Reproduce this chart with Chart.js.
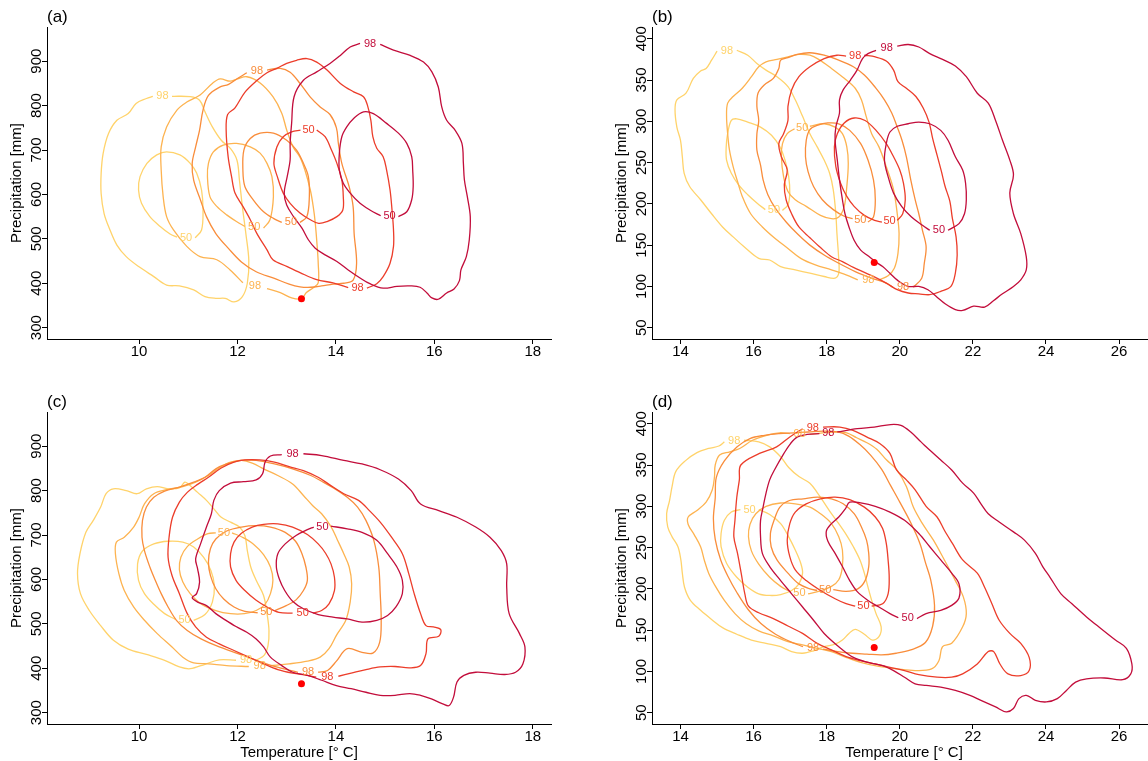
<!DOCTYPE html>
<html>
<head>
<meta charset="utf-8">
<script src="https://cdn.jsdelivr.net/npm/chart.js@4.4.1/dist/chart.umd.min.js"></script>
<style>
  html, body { margin: 0; padding: 0; background: #fff; overflow: hidden; }
  #fig { position: relative; width: 1148px; height: 761px; overflow: hidden; background: #fff; }
  #fig canvas { position: absolute; }
</style>
</head>
<body>
<div id="fig">
  <canvas id="pa" width="574" height="380" style="left:0;top:0"></canvas>
  <canvas id="pb" width="574" height="380" style="left:605px;top:0"></canvas>
  <canvas id="pc" width="574" height="380" style="left:0;top:385px"></canvas>
  <canvas id="pd" width="574" height="380" style="left:605px;top:385px"></canvas>
</div>
<script>
; (() => {
    "use strict";

    const FONT = '"Liberation Sans", Arial, Helvetica, sans-serif';
    const shades = ['#FFD36B', '#FDB350', '#F98D3B', '#EC3D2A', '#C20D3B'];

    // axes
    const xTicksAC = [10, 12, 14, 16, 18];
    const xTicksBD = [14, 16, 18, 20, 22, 24, 26];
    const yTicksAC = [300, 400, 500, 600, 700, 800, 900];
    const yTicksBD = [50, 100, 150, 200, 250, 300, 350, 400];
    const xRangeAC = [8.13, 18.37], yRangeAC = [274.5, 977];
    const xRangeBD = [13.22, 27.01], yRangeBD = [36.3, 414.2];

    // observed point
    const obsAC = [13.3, 365];
    const obsBD = [19.3, 129];

    // contours: each list starts just after its label and ends just before it
    // panel (a)
    const a1_98 = [[10.67,821],[11.04,820],[11.23,812],[11.34,786],[11.49,752],[11.67,722],[11.86,703],[11.99,677],[12.04,632],[12.10,572],[12.17,512],[12.23,452],[12.20,400],[12.10,370],[11.93,358],[11.75,366],[11.56,366],[11.34,370],[11.11,385],[10.82,394],[10.56,396],[10.30,415],[10.00,437],[9.74,460],[9.55,486],[9.41,520],[9.29,557],[9.23,602],[9.23,647],[9.27,692],[9.38,737],[9.55,767],[9.78,782],[9.94,805],[10.15,816],[10.28,821]];
    const a1_50 = [[11.14,502],[11.27,520],[11.30,565],[11.27,610],[11.17,648],[11.04,670],[10.83,689],[10.56,696],[10.36,689],[10.16,670],[10.02,640],[9.99,610],[10.05,580],[10.22,550],[10.43,528],[10.63,511],[10.77,504]];
    const a2_98 = [[12.6,388],[12.87,379],[13.1,367],[13.3,365],[13.4,379],[13.54,390],[13.64,401],[13.64,446],[13.62,482],[13.58,536],[13.54,572],[13.48,610],[13.37,655],[13.27,684],[13.13,707],[13.0,745],[12.9,783],[12.72,820],[12.46,851],[12.19,865],[12.0,860],[11.85,855],[11.65,860],[11.5,851],[11.24,824],[10.97,808],[10.77,790],[10.56,752],[10.45,707],[10.45,655],[10.49,595],[10.56,550],[10.7,520],[10.97,483],[11.24,460],[11.58,453],[11.85,430],[12.11,401]];
    const a2_50 = [[12.53,524],[12.66,543],[12.73,595],[12.7,640],[12.6,670],[12.46,693],[12.26,707],[11.98,715],[11.71,711],[11.51,696],[11.41,670],[11.39,640],[11.44,595],[11.58,573],[11.78,554],[11.98,539],[12.15,528]];
    const a3_98 = [[12.6,880],[12.87,884],[13.07,875],[13.27,850],[13.48,819],[13.68,797],[13.88,780],[14.01,750],[14.05,715],[14.12,670],[14.27,617],[14.35,572],[14.37,512],[14.42,445],[14.35,407],[14.16,400],[13.94,398],[13.71,394],[13.49,391],[13.27,392],[13.05,398],[12.75,411],[12.38,426],[12.08,448],[11.82,478],[11.56,512],[11.37,550],[11.25,587],[11.11,632],[11.08,670],[11.15,707],[11.23,745],[11.30,790],[11.41,823],[11.63,841],[11.82,848],[12.0,861],[12.19,874]];
    const a3_50 = [[13.27,537],[13.41,550],[13.46,595],[13.44,640],[13.34,670],[13.2,700],[13.0,722],[12.73,738],[12.46,738],[12.26,726],[12.13,700],[12.11,655],[12.15,618],[12.32,588],[12.53,561],[12.73,546],[12.9,537]];
    const a4_98 = [[14.63,389],[14.83,399],[14.96,415],[15.1,445],[15.17,483],[15.17,520],[15.14,565],[15.1,610],[15.03,655],[14.96,685],[14.83,704],[14.75,730],[14.71,767],[14.64,801],[14.56,820],[14.36,831],[14.09,850],[13.82,880],[13.61,898],[13.41,906],[13.2,902],[13.0,895],[12.8,884],[12.6,874],[12.4,857],[12.15,830],[11.95,795],[11.8,780],[11.77,745],[11.81,685],[11.88,640],[11.95,603],[12.11,573],[12.26,543],[12.39,513],[12.6,475],[12.72,453],[13.0,438],[13.27,424],[13.61,408],[13.94,401],[14.25,390]];
    const a4_50 = [[13.61,745],[13.78,730],[13.91,700],[14.02,670],[14.12,633],[14.15,595],[14.14,565],[14.02,550],[13.82,539],[13.65,535],[13.48,543],[13.27,558],[13.07,580],[12.93,603],[12.81,640],[12.74,670],[12.8,707],[12.93,730],[13.1,741],[13.28,745]];
    const a5_98 = [[14.90,938],[15.17,925],[15.51,913],[15.78,898],[15.95,876],[16.08,842],[16.15,797],[16.25,767],[16.42,745],[16.56,715],[16.59,670],[16.61,633],[16.67,595],[16.73,550],[16.71,498],[16.65,460],[16.54,430],[16.51,406],[16.4,387],[16.25,378],[16.08,364],[15.95,367],[15.85,378],[15.71,391],[15.51,394],[15.24,393],[14.96,389],[14.69,399],[14.49,412],[14.25,430],[14.02,449],[13.78,464],[13.58,479],[13.44,498],[13.31,524],[13.14,550],[13.0,576],[12.95,603],[13.01,640],[13.07,678],[13.07,715],[13.1,760],[13.15,820],[13.34,857],[13.61,876],[13.88,895],[14.09,913],[14.29,932],[14.49,940]];
    const a5_50 = [[15.27,550],[15.44,561],[15.54,588],[15.57,618],[15.56,655],[15.54,685],[15.44,715],[15.27,738],[15.03,760],[14.76,782],[14.56,786],[14.36,771],[14.22,752],[14.12,730],[14.07,693],[14.07,655],[14.15,625],[14.29,603],[14.49,580],[14.69,565],[14.91,552]];

    // panel (b)
    const b1_98 = [[15.54,386],[15.84,380],[16.09,370],[16.34,362],[16.64,354],[16.94,342],[17.14,326],[17.34,306],[17.54,285],[17.74,269],[17.93,253],[18.08,237],[18.18,217],[18.25,188],[18.28,164],[18.33,132],[18.33,116],[18.23,110],[17.93,112],[17.54,116],[17.14,120],[16.74,124],[16.44,132],[16.14,134],[15.74,148],[15.44,160],[15.15,172],[14.85,188],[14.55,205],[14.25,221],[14.1,237],[14.05,257],[14.0,277],[13.9,293],[13.85,314],[13.9,326],[14.15,334],[14.35,352],[14.55,361],[14.7,364],[14.85,374],[15.0,385]];
    const b1_50 = [[16.79,192],[16.94,199],[16.99,213],[16.96,233],[16.86,253],[16.72,269],[16.49,283],[16.19,293],[15.84,299],[15.54,303],[15.39,301],[15.29,285],[15.25,269],[15.26,253],[15.39,237],[15.59,223],[15.84,211],[16.09,201],[16.32,193]];
    const b2_98 = [[19.43,108],[19.68,113],[19.85,122],[19.95,140],[19.98,164],[19.93,188],[19.83,217],[19.63,245],[19.43,269],[19.23,285],[19.08,306],[18.95,326],[18.78,340],[18.48,352],[18.13,364],[17.78,375],[17.54,380],[17.24,381],[16.94,378],[16.64,375],[16.34,372],[16.14,366],[15.94,354],[15.69,340],[15.44,330],[15.29,322],[15.26,306],[15.29,285],[15.34,265],[15.44,245],[15.56,227],[15.69,209],[15.92,188],[16.24,172],[16.59,158],[16.94,146],[17.29,134],[17.69,126],[18.13,120],[18.53,114],[18.85,108]];
    const b2_50 = [[17.54,294],[17.93,297],[18.23,293],[18.43,285],[18.55,269],[18.59,249],[18.55,221],[18.48,197],[18.33,184],[18.13,182],[17.83,186],[17.44,197],[17.14,205],[16.94,215],[16.82,233],[16.76,257],[16.79,273],[16.92,285],[17.12,291]];
    const b3_98 = [[20.37,99],[20.6,110],[20.67,128],[20.72,148],[20.62,168],[20.52,188],[20.42,205],[20.3,229],[20.18,257],[20.06,277],[19.93,293],[19.78,310],[19.58,326],[19.33,341],[19.03,356],[18.73,366],[18.33,374],[17.93,380],[17.54,383],[17.19,381],[16.94,377],[16.74,374],[16.69,364],[16.54,352],[16.29,344],[16.12,334],[16.09,318],[16.14,301],[16.09,285],[16.09,265],[16.19,247],[16.26,229],[16.39,211],[16.59,195],[16.89,178],[17.19,164],[17.54,150],[17.93,138],[18.33,128],[18.78,118],[19.23,110],[19.63,104],[19.81,99]];
    const b3_50 = [[19.13,178],[19.28,184],[19.33,205],[19.28,229],[19.13,253],[18.93,273],[18.63,289],[18.33,297],[18.03,298],[17.74,295],[17.54,290],[17.44,277],[17.42,257],[17.49,239],[17.64,221],[17.88,205],[18.18,193],[18.48,185],[18.71,182]];
    const b4_98 = [[19.03,380],[19.33,378],[19.63,373],[19.83,362],[19.95,348],[20.18,340],[20.44,330],[20.64,316],[20.8,299],[20.9,279],[21.02,259],[21.14,239],[21.24,221],[21.37,203],[21.44,182],[21.54,160],[21.57,138],[21.52,116],[21.4,100],[21.12,94],[20.82,90],[20.52,91],[20.23,92],[19.93,96],[19.63,104],[19.33,111],[19.03,117],[18.73,123],[18.43,130],[18.13,136],[17.83,147],[17.54,159],[17.24,172],[17.04,188],[16.89,205],[16.84,223],[16.92,241],[16.76,257],[16.69,273],[16.82,285],[16.94,301],[16.94,318],[17.04,338],[17.24,354],[17.54,366],[17.93,376],[18.28,380],[18.53,379]];
    const b4_50 = [[19.93,180],[20.08,188],[20.15,205],[20.1,225],[20.0,241],[19.83,257],[19.63,273],[19.35,289],[19.05,301],[18.75,304],[18.48,298],[18.29,285],[18.21,269],[18.25,245],[18.38,225],[18.55,209],[18.75,197],[19.03,186],[19.31,180],[19.51,178]];
    const b5_98 = [[19.93,391],[20.23,393],[20.52,390],[20.82,382],[21.17,375],[21.52,367],[21.82,354],[22.12,334],[22.42,322],[22.62,301],[22.81,277],[23.01,253],[23.11,235],[23.01,213],[23.11,188],[23.31,164],[23.46,136],[23.46,120],[23.31,108],[23.11,100],[22.81,91],[22.57,83],[22.32,75],[22.02,76],[21.72,71],[21.52,72],[21.24,79],[21.02,87],[20.77,96],[20.52,100],[20.23,100],[19.95,107],[19.73,116],[19.53,124],[19.33,130],[19.13,137],[18.93,144],[18.75,156],[18.61,172],[18.5,188],[18.43,205],[18.35,229],[18.29,253],[18.23,277],[18.25,293],[18.35,310],[18.35,326],[18.45,338],[18.65,350],[18.83,362],[18.98,376],[19.13,382],[19.35,386]];
    const b5_50 = [[21.32,168],[21.62,176],[21.77,188],[21.82,205],[21.8,225],[21.72,241],[21.52,257],[21.32,277],[21.12,289],[20.82,297],[20.52,299],[20.23,297],[19.93,294],[19.73,287],[19.63,273],[19.58,253],[19.68,233],[19.83,213],[20.05,197],[20.32,184],[20.62,174],[20.82,168]];

    // panel (c)
    const c1_98 = [[12.38,418],[12.54,429],[12.62,451],[12.64,485],[12.6,523],[12.53,564],[12.38,598],[12.27,628],[12.2,665],[12.15,699],[12.04,718],[11.86,729],[11.67,740],[11.52,759],[11.37,778],[11.19,796],[11.0,815],[10.93,819],[10.82,806],[10.59,804],[10.37,809],[10.15,804],[9.96,793],[9.74,800],[9.48,804],[9.33,793],[9.22,763],[9.07,733],[8.92,706],[8.8,658],[8.75,613],[8.81,568],[8.99,530],[9.22,496],[9.48,463],[9.78,443],[10.15,431],[10.52,418],[10.82,403],[11.04,399],[11.34,409],[11.63,419],[11.97,418]];
    const c1_50 = [[11.11,508],[11.34,521],[11.49,549],[11.53,586],[11.46,620],[11.31,650],[11.11,673],[10.89,684],[10.59,686],[10.3,680],[10.07,664],[9.97,635],[9.99,598],[10.11,568],[10.3,544],[10.52,523],[10.74,510]];
    const c2_98 = [[12.67,406],[13.05,410],[13.42,416],[13.68,425],[13.86,444],[14.01,474],[14.2,508],[14.29,549],[14.32,590],[14.27,628],[14.16,658],[14.03,689],[13.9,719],[13.71,748],[13.53,766],[13.34,789],[13.12,815],[12.82,834],[12.53,849],[12.3,862],[12.08,868],[11.86,864],[11.63,851],[11.41,834],[11.15,819],[10.89,809],[10.56,802],[10.3,793],[10.11,770],[10.0,740],[9.89,718],[9.7,695],[9.54,684],[9.52,658],[9.59,613],[9.7,575],[9.89,538],[10.11,508],[10.37,478],[10.67,448],[10.89,425],[11.11,412],[11.41,410],[11.78,406],[12.23,404]];
    const c2_50 = [[11.89,705],[12.1,695],[12.32,680],[12.53,656],[12.67,628],[12.72,598],[12.67,568],[12.56,544],[12.38,530],[12.14,523],[11.86,523],[11.56,530],[11.26,545],[11.04,568],[10.89,594],[10.82,622],[10.85,650],[10.98,674],[11.19,691],[11.4,703],[11.56,705]];
    const c3_98 = [[13.64,391],[13.83,395],[14.01,416],[14.23,444],[14.53,436],[14.75,434],[14.89,459],[14.92,508],[14.9,568],[14.87,628],[14.77,688],[14.61,733],[14.44,763],[14.23,785],[13.95,806],[13.71,821],[13.49,834],[13.12,849],[12.75,860],[12.38,868],[12.08,868],[11.78,860],[11.56,849],[11.34,830],[11.11,819],[10.82,808],[10.52,799],[10.3,785],[10.15,763],[10.07,733],[10.06,695],[10.11,665],[10.22,628],[10.33,598],[10.45,568],[10.59,538],[10.76,508],[10.98,485],[11.26,466],[11.63,448],[12.01,433],[12.38,418],[12.75,404],[13.23,391]];
    const c3_50 = [[12.76,530],[12.99,541],[13.19,554],[13.34,575],[13.42,598],[13.39,628],[13.31,658],[13.18,686],[12.97,706],[12.67,718],[12.38,721],[12.08,718],[11.78,709],[11.56,691],[11.45,669],[11.41,639],[11.45,609],[11.56,579],[11.72,556],[11.93,538],[12.15,528],[12.41,525]];
    const c4_98 = [[14.05,382],[14.31,389],[14.61,397],[14.9,403],[15.2,404],[15.5,401],[15.72,406],[15.83,433],[15.87,466],[16.09,472],[16.13,487],[15.98,493],[15.83,496],[15.72,523],[15.59,568],[15.48,613],[15.35,658],[15.13,695],[14.9,729],[14.68,755],[14.46,778],[14.16,793],[13.86,814],[13.64,830],[13.34,845],[13.05,854],[12.75,864],[12.45,869],[12.15,869],[11.93,864],[11.67,851],[11.41,830],[11.19,814],[10.98,796],[10.82,774],[10.68,740],[10.61,695],[10.59,650],[10.67,609],[10.82,568],[10.98,523],[11.15,493],[11.37,470],[11.63,455],[11.93,440],[12.23,425],[12.53,410],[12.82,397],[13.12,389],[13.42,384],[13.6,380]];
    const c4_50 = [[13.53,524],[13.71,530],[13.86,545],[13.97,575],[13.97,605],[13.9,635],[13.79,659],[13.64,680],[13.42,701],[13.12,718],[12.82,725],[12.53,724],[12.3,718],[12.08,704],[11.93,684],[11.86,658],[11.86,628],[11.97,598],[12.15,575],[12.38,553],[12.6,538],[12.84,526],[13.12,524]];
    const c5_98 = [[13.34,883],[13.71,879],[14.16,868],[14.53,860],[14.9,847],[15.27,826],[15.53,800],[15.72,770],[16.09,755],[16.46,740],[16.84,718],[17.13,695],[17.36,665],[17.47,635],[17.47,583],[17.52,523],[17.73,478],[17.84,448],[17.8,410],[17.65,391],[17.43,386],[17.13,389],[16.84,391],[16.6,384],[16.46,369],[16.39,335],[16.3,316],[16.17,320],[15.94,331],[15.72,339],[15.5,343],[15.2,339],[14.9,339],[14.61,346],[14.31,354],[14.01,361],[13.71,373],[13.42,384],[13.12,391],[12.9,406],[12.67,425],[12.53,448],[12.38,466],[12.19,481],[11.97,494],[11.75,509],[11.56,523],[11.37,541],[11.19,549],[11.08,559],[11.17,568],[11.23,594],[11.19,624],[11.15,646],[11.25,680],[11.37,718],[11.47,748],[11.52,778],[11.63,800],[11.86,817],[12.12,820],[12.38,824],[12.51,838],[12.56,864],[12.67,878],[12.9,881]];
    const c5_50 = [[13.9,720],[14.23,714],[14.53,706],[14.83,688],[15.05,658],[15.24,628],[15.35,598],[15.35,568],[15.22,538],[15.05,519],[14.83,508],[14.53,504],[14.23,511],[13.94,515],[13.64,521],[13.34,534],[13.12,551],[12.96,575],[12.85,601],[12.79,628],[12.82,658],[12.97,680],[13.19,699],[13.42,712],[13.55,718]];

    // panel (d)
    const d1_98 = [[15.74,380],[16.14,378],[16.44,372],[16.74,360],[16.96,347],[17.24,336],[17.54,328],[17.75,316],[17.95,303],[18.13,291],[18.33,279],[18.53,266],[18.73,251],[18.91,235],[19.03,219],[19.13,202],[19.23,186],[19.35,170],[19.49,154],[19.43,142],[19.25,138],[19.03,145],[18.78,151],[18.61,146],[18.43,138],[18.23,133],[17.93,130],[17.64,125],[17.34,122],[17.04,124],[16.74,130],[16.34,134],[15.94,138],[15.54,145],[15.15,153],[14.85,163],[14.55,174],[14.27,186],[14.11,202],[14.05,219],[14.01,235],[13.93,251],[13.77,263],[13.65,275],[13.62,291],[13.7,307],[13.77,324],[13.87,342],[14.13,355],[14.45,365],[14.77,370],[15.05,373],[15.2,378]];
    const d1_50 = [[16.14,296],[16.44,290],[16.74,279],[16.96,263],[17.14,247],[17.29,231],[17.34,219],[17.24,206],[17.04,198],[16.74,193],[16.44,192],[16.14,194],[15.84,202],[15.54,214],[15.26,231],[15.11,251],[15.11,267],[15.2,283],[15.39,293],[15.64,296]];
    const d2_98 = [[17.53,387],[17.89,389],[18.27,390],[18.55,389],[18.82,383],[19.1,377],[19.37,369],[19.64,356],[19.92,344],[20.18,324],[20.37,299],[20.62,279],[20.92,259],[21.22,235],[21.52,210],[21.74,190],[21.82,170],[21.72,154],[21.42,134],[21.17,130],[21.07,113],[20.87,103],[20.42,101],[19.93,103],[19.43,106],[18.93,111],[18.53,117],[18.13,124],[17.74,128],[17.34,132],[16.94,136],[16.54,143],[16.14,149],[15.79,158],[15.49,170],[15.2,186],[14.97,202],[14.77,219],[14.65,235],[14.55,251],[14.37,266],[14.21,278],[14.21,287],[14.45,295],[14.7,305],[14.87,320],[14.93,336],[14.95,350],[15.07,362],[15.35,366],[15.62,370],[15.97,380],[16.36,386],[16.71,389],[16.99,388]];
    const d2_50 = [[17.49,194],[17.78,197],[18.13,203],[18.33,211],[18.43,227],[18.43,247],[18.33,263],[18.13,279],[17.83,291],[17.54,299],[17.14,303],[16.74,304],[16.34,300],[16.06,291],[15.9,278],[15.86,263],[15.94,246],[16.14,230],[16.44,214],[16.74,203],[17.02,196]];
    const d3_98 = [[17.9,127],[18.3,124],[18.7,122],[19.1,121],[19.5,120],[19.9,122],[20.3,126],[20.7,135],[20.9,155],[20.95,180],[20.85,210],[20.7,232],[20.55,255],[20.3,280],[20.0,305],[19.75,325],[19.5,345],[19.2,362],[18.9,375],[18.6,385],[18.3,390],[17.9,391],[17.5,390],[17.1,389],[16.7,388],[16.3,386],[15.9,382],[15.55,372],[15.2,355],[14.98,335],[14.95,310],[14.9,285],[14.95,260],[15.1,235],[15.3,215],[15.55,195],[15.85,175],[16.2,158],[16.6,145],[17.0,136],[17.35,130]];
    const d3_50 = [[18.18,199],[18.53,197],[18.85,200],[19.05,210],[19.15,227],[19.15,243],[19.09,259],[18.95,275],[18.75,291],[18.45,303],[18.13,309],[17.75,311],[17.36,309],[16.98,307],[16.72,299],[16.56,283],[16.46,267],[16.48,251],[16.64,235],[16.94,219],[17.24,206],[17.54,200],[17.74,198]];
    const d4_98 = [[17.9,396],[18.36,396],[18.72,392],[19.09,384],[19.45,376],[19.73,364],[19.91,344],[20.18,332],[20.42,320],[20.72,300],[21.02,287],[21.22,271],[21.44,255],[21.72,235],[22.12,219],[22.32,202],[22.52,182],[22.72,162],[23.01,146],[23.31,134],[23.54,117],[23.54,101],[23.31,95],[22.96,97],[22.74,109],[22.57,124],[22.42,124],[22.12,109],[21.72,97],[21.42,93],[21.02,93],[20.52,96],[20.13,101],[19.73,105],[19.33,109],[18.93,113],[18.53,118],[18.13,126],[17.74,134],[17.34,146],[16.94,155],[16.54,164],[16.14,171],[15.86,179],[15.76,194],[15.66,219],[15.56,243],[15.46,263],[15.49,283],[15.54,311],[15.61,332],[15.65,350],[16.16,364],[16.63,372],[16.99,384],[17.34,394]];
    const d4_50 = [[19.23,179],[19.53,182],[19.68,194],[19.71,214],[19.68,235],[19.63,255],[19.53,273],[19.33,287],[19.03,299],[18.63,308],[18.23,311],[17.83,309],[17.44,303],[17.14,293],[16.99,279],[16.92,259],[16.99,239],[17.14,223],[17.44,210],[17.83,198],[18.23,188],[18.53,182],[18.78,179]];
    const d5_98 = [[18.29,390],[18.84,394],[19.3,396],[19.75,399],[20.03,398],[20.3,390],[20.58,378],[20.72,372],[21.12,356],[21.42,344],[21.72,328],[22.02,316],[22.22,303],[22.42,291],[22.72,281],[23.11,269],[23.41,259],[23.71,243],[23.91,227],[24.11,214],[24.41,194],[24.71,182],[25.11,166],[25.5,152],[25.9,138],[26.2,128],[26.35,109],[26.32,97],[26.1,90],[25.6,92],[25.11,91],[24.81,87],[24.56,77],[24.31,67],[24.01,63],[23.71,65],[23.46,71],[23.26,67],[23.11,55],[22.91,51],[22.62,57],[22.22,65],[21.92,71],[21.52,77],[21.12,81],[20.72,83],[20.42,85],[20.13,93],[19.83,101],[19.53,107],[19.13,111],[18.73,117],[18.33,130],[17.93,146],[17.64,162],[17.34,178],[17.04,194],[16.74,210],[16.44,227],[16.24,243],[16.19,263],[16.19,283],[16.26,299],[16.34,316],[16.44,332],[16.57,344],[16.83,364],[17.01,376],[17.2,384],[17.47,387],[17.8,388]];
    const d5_50 = [[20.47,164],[20.72,170],[21.12,174],[21.42,180],[21.62,189],[21.62,206],[21.42,219],[21.12,235],[20.82,251],[20.52,267],[20.13,283],[19.73,293],[19.33,300],[18.93,304],[18.63,305],[18.51,297],[18.33,287],[18.13,279],[17.99,270],[18.03,258],[18.23,243],[18.43,227],[18.63,210],[18.83,197],[19.13,186],[19.43,178],[19.73,170],[19.96,165]];

    Chart.defaults.font.family = FONT;
    Chart.defaults.color = '#000';

    // contour labels, rotated y tick labels, panel letter
    const rStyle = {
        id: 'rStyle',
        afterDatasetsDraw(chart) {
            const { ctx } = chart;
            const x = chart.scales.x, y = chart.scales.y;
            ctx.save();
            ctx.font = '11px ' + FONT;
            ctx.textAlign = 'center';
            ctx.textBaseline = 'middle';
            chart.data.datasets.forEach(ds => {
                if (!ds.level) return;
                const p = ds.data[0], q = ds.data[ds.data.length - 1];
                ctx.fillStyle = ds.borderColor;
                ctx.fillText(ds.level,
                    x.getPixelForValue((p.x + q.x) / 2),
                    y.getPixelForValue((p.y + q.y) / 2));
            });
            ctx.restore();
        },
        afterDraw(chart, args, opts) {
            const { ctx, chartArea } = chart;
            const y = chart.scales.y;
            ctx.save();
            ctx.fillStyle = '#000';
            ctx.font = '15px ' + FONT;
            ctx.textAlign = 'center';
            ctx.textBaseline = 'alphabetic';
            y.ticks.forEach(t => {
                ctx.save();
                ctx.translate(y.right - 6, y.getPixelForValue(t.value));
                ctx.rotate(-Math.PI / 2);
                ctx.fillText(String(t.value), 0, 0);
                ctx.restore();
            });
            ctx.font = '17px ' + FONT;
            ctx.textAlign = 'left';
            ctx.fillText(opts.tag, chartArea.left, chartArea.top - 5.5);
            ctx.restore();
        }
    };

    function contour(pts, level, shade) {
        return {
            level: level,
            data: pts.map(p => ({ x: p[0], y: p[1] })),
            showLine: true,
            borderColor: shade,
            borderWidth: 1.3,
            pointRadius: 0,
            pointHoverRadius: 0,
            pointHitRadius: 0,
            tension: 0.35,
            fill: false
        };
    }

    function panel(id, tag, c98, c50, obs, xr, yr, xt, yt, showX) {

        const sets = [{
            data: [{ x: obs[0], y: obs[1] }],
            showLine: false,
            pointRadius: 3.5,
            pointBackgroundColor: '#FF0000',
            pointBorderColor: '#FF0000',
            pointBorderWidth: 0
        }];

        for (let i = 4; i >= 0; i--) {
            sets.push(contour(c98[i], '98', shades[i]));
            sets.push(contour(c50[i], '50', shades[i]));
        }

        const axisCommon = {
            type: 'linear',
            border: { display: true, color: '#000', width: 1 },
            grid: { display: true, drawOnChartArea: false, drawTicks: true, tickLength: 5, tickColor: '#000', tickWidth: 1 }
        };

        new Chart(document.getElementById(id), {
            type: 'scatter',
            data: { datasets: sets },
            options: {
                responsive: false,
                animation: false,
                devicePixelRatio: 1,
                events: [],
                layout: { padding: { left: 0, top: 27, right: 23, bottom: 0 } },
                plugins: {
                    legend: { display: false },
                    tooltip: { enabled: false },
                    rStyle: { tag: tag }
                },
                scales: {
                    x: Object.assign({}, axisCommon, {
                        min: xr[0],
                        max: xr[1],
                        afterBuildTicks: s => { s.ticks = xt.map(v => ({ value: v })); },
                        afterFit: s => { s.height = 41; },
                        ticks: {
                            autoSkip: false, maxRotation: 0, padding: 0,
                            font: { size: 15, lineHeight: 1.1 },
                            callback: v => String(v)
                        },
                        title: {
                            display: showX,
                            text: 'Temperature [° C]',
                            font: { size: 15 },
                            padding: { top: 0, bottom: 3 }
                        }
                    }),
                    y: Object.assign({}, axisCommon, {
                        min: yr[0],
                        max: yr[1],
                        afterBuildTicks: s => { s.ticks = yt.map(v => ({ value: v })); },
                        afterFit: s => { s.width = 47; },
                        ticks: { display: false },
                        title: {
                            display: true,
                            text: 'Precipitation [mm]',
                            font: { size: 15 },
                            padding: { top: 7.5, bottom: 0 }
                        }
                    })
                }
            },
            plugins: [rStyle]
        });
    }

    panel('pa', '(a)', [a1_98, a2_98, a3_98, a4_98, a5_98], [a1_50, a2_50, a3_50, a4_50, a5_50],
        obsAC, xRangeAC, yRangeAC, xTicksAC, yTicksAC, false);
    panel('pb', '(b)', [b1_98, b2_98, b3_98, b4_98, b5_98], [b1_50, b2_50, b3_50, b4_50, b5_50],
        obsBD, xRangeBD, yRangeBD, xTicksBD, yTicksBD, false);
    panel('pc', '(c)', [c1_98, c2_98, c3_98, c4_98, c5_98], [c1_50, c2_50, c3_50, c4_50, c5_50],
        obsAC, xRangeAC, yRangeAC, xTicksAC, yTicksAC, true);
    panel('pd', '(d)', [d1_98, d2_98, d3_98, d4_98, d5_98], [d1_50, d2_50, d3_50, d4_50, d5_50],
        obsBD, xRangeBD, yRangeBD, xTicksBD, yTicksBD, true);

})();
</script>
</body>
</html>
